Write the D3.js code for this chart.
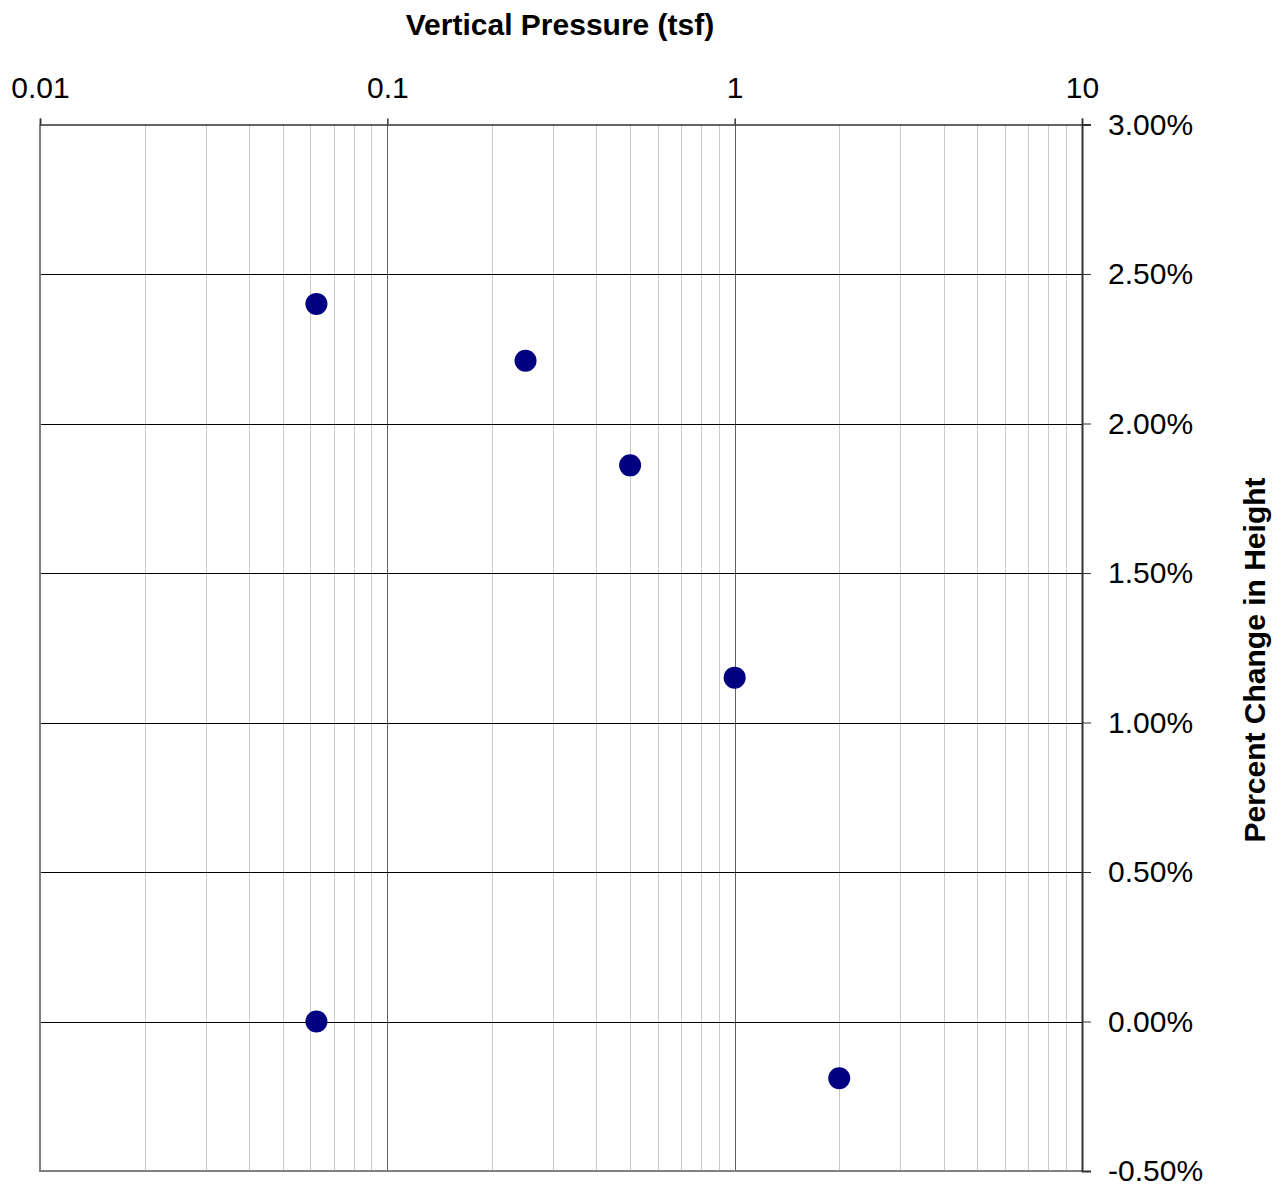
<!DOCTYPE html>
<html>
<head>
<meta charset="utf-8">
<script src="https://cdn.jsdelivr.net/npm/d3@7"></script>
<style>
  html, body { margin: 0; padding: 0; background: #fff; }
  svg { display: block; font-family: "Liberation Sans", Arial, sans-serif; }
</style>
</head>
<body>
<svg id="chart" width="1281" height="1186"></svg>
<script>
// Consolidation test: vertical pressure vs. percent change in height
const pressure = [0.0625, 0.25, 0.5, 1, 0.0625, 2];          // tsf
const heightChange = [2.40, 2.21, 1.86, 1.15, 0.00, -0.19];  // percent
const xMajorTicks = [0.01, 0.1, 1, 10];
const xTickLabels = ["0.01", "0.1", "1", "10"];
const yTicks = [-0.5, 0, 0.5, 1, 1.5, 2, 2.5, 3];

const margin = { left: 40, right: 1082, top: 124.5, bottom: 1171 };

const svg = d3.select("#chart");

const x = d3.scaleLog().domain([0.01, 10]).range([margin.left, margin.right]);
const y = d3.scaleLinear().domain([-0.5, 3]).range([margin.bottom, margin.top]);

// minor log grid (2..9 in each decade)
const minorTicks = [];
for (let d = 0.01; d < 10; d *= 10) {
  for (let k = 2; k <= 9; k++) minorTicks.push(+(d * k).toPrecision(3));
}

const grid = svg.append("g");
grid.selectAll("line.minor").data(minorTicks).join("line")
  .attr("class", "minor")
  .attr("x1", d => Math.round(x(d)) + 0.5).attr("x2", d => Math.round(x(d)) + 0.5)
  .attr("y1", margin.top).attr("y2", margin.bottom)
  .attr("stroke", "#c8c8c8").attr("stroke-width", 1);

grid.selectAll("line.major").data([0.1, 1]).join("line")
  .attr("class", "major")
  .attr("x1", d => Math.round(x(d)) + 0.5).attr("x2", d => Math.round(x(d)) + 0.5)
  .attr("y1", margin.top).attr("y2", margin.bottom)
  .attr("stroke", "#606060").attr("stroke-width", 1);

grid.selectAll("line.h").data(yTicks.filter(v => v > -0.5 && v < 3)).join("line")
  .attr("class", "h")
  .attr("x1", margin.left).attr("x2", margin.right)
  .attr("y1", d => Math.round(y(d)) + 0.5).attr("y2", d => Math.round(y(d)) + 0.5)
  .attr("stroke", "#000").attr("stroke-width", 1);

// frame: left and bottom gray, top and right dark
svg.append("line").attr("x1", margin.left).attr("x2", margin.left)
  .attr("y1", margin.top).attr("y2", margin.bottom + 1)
  .attr("stroke", "#808080").attr("stroke-width", 2);
svg.append("line").attr("x1", margin.left - 1).attr("x2", margin.right)
  .attr("y1", margin.bottom).attr("y2", margin.bottom)
  .attr("stroke", "#808080").attr("stroke-width", 2);

// top axis (log)
const xAxis = d3.axisTop(x).tickValues(xMajorTicks)
  .tickFormat((d, i) => xTickLabels[i]).tickSize(6).tickPadding(21);
const gx = svg.append("g").attr("transform", `translate(0,${margin.top})`).call(xAxis);
gx.select(".domain").attr("stroke", "#333").attr("stroke-width", 1.5);
gx.selectAll(".tick line").attr("stroke", "#333").attr("stroke-width", 1.5);
gx.selectAll(".tick text").attr("fill", "#000").attr("font-size", 30)
  .attr("font-family", "Liberation Sans, Arial, sans-serif");

// right axis
const yAxis = d3.axisRight(y).tickValues(yTicks)
  .tickFormat(d => d.toFixed(2) + "%").tickSize(9).tickPadding(17);
const gy = svg.append("g").attr("transform", `translate(${margin.right},0)`).call(yAxis);
gy.select(".domain").attr("stroke", "#333").attr("stroke-width", 2);
gy.selectAll(".tick line").attr("stroke", "#333").attr("stroke-width", 1);
gy.selectAll(".tick text").attr("fill", "#000").attr("font-size", 30)
  .attr("font-family", "Liberation Sans, Arial, sans-serif");

// titles
svg.append("text").attr("x", 560).attr("y", 35).attr("text-anchor", "middle")
  .attr("font-size", 30).attr("font-weight", "bold").text("Vertical Pressure (tsf)");
svg.append("text").attr("transform", "translate(1265,660) rotate(-90)")
  .attr("text-anchor", "middle").attr("font-size", 30).attr("font-weight", "bold")
  .text("Percent Change in Height");

// data points
svg.append("g").selectAll("circle").data(pressure.map((p, i) => [p, heightChange[i]]))
  .join("circle")
  .attr("cx", d => x(d[0])).attr("cy", d => y(d[1]))
  .attr("r", 11).attr("fill", "#000080");
</script>
</body>
</html>
